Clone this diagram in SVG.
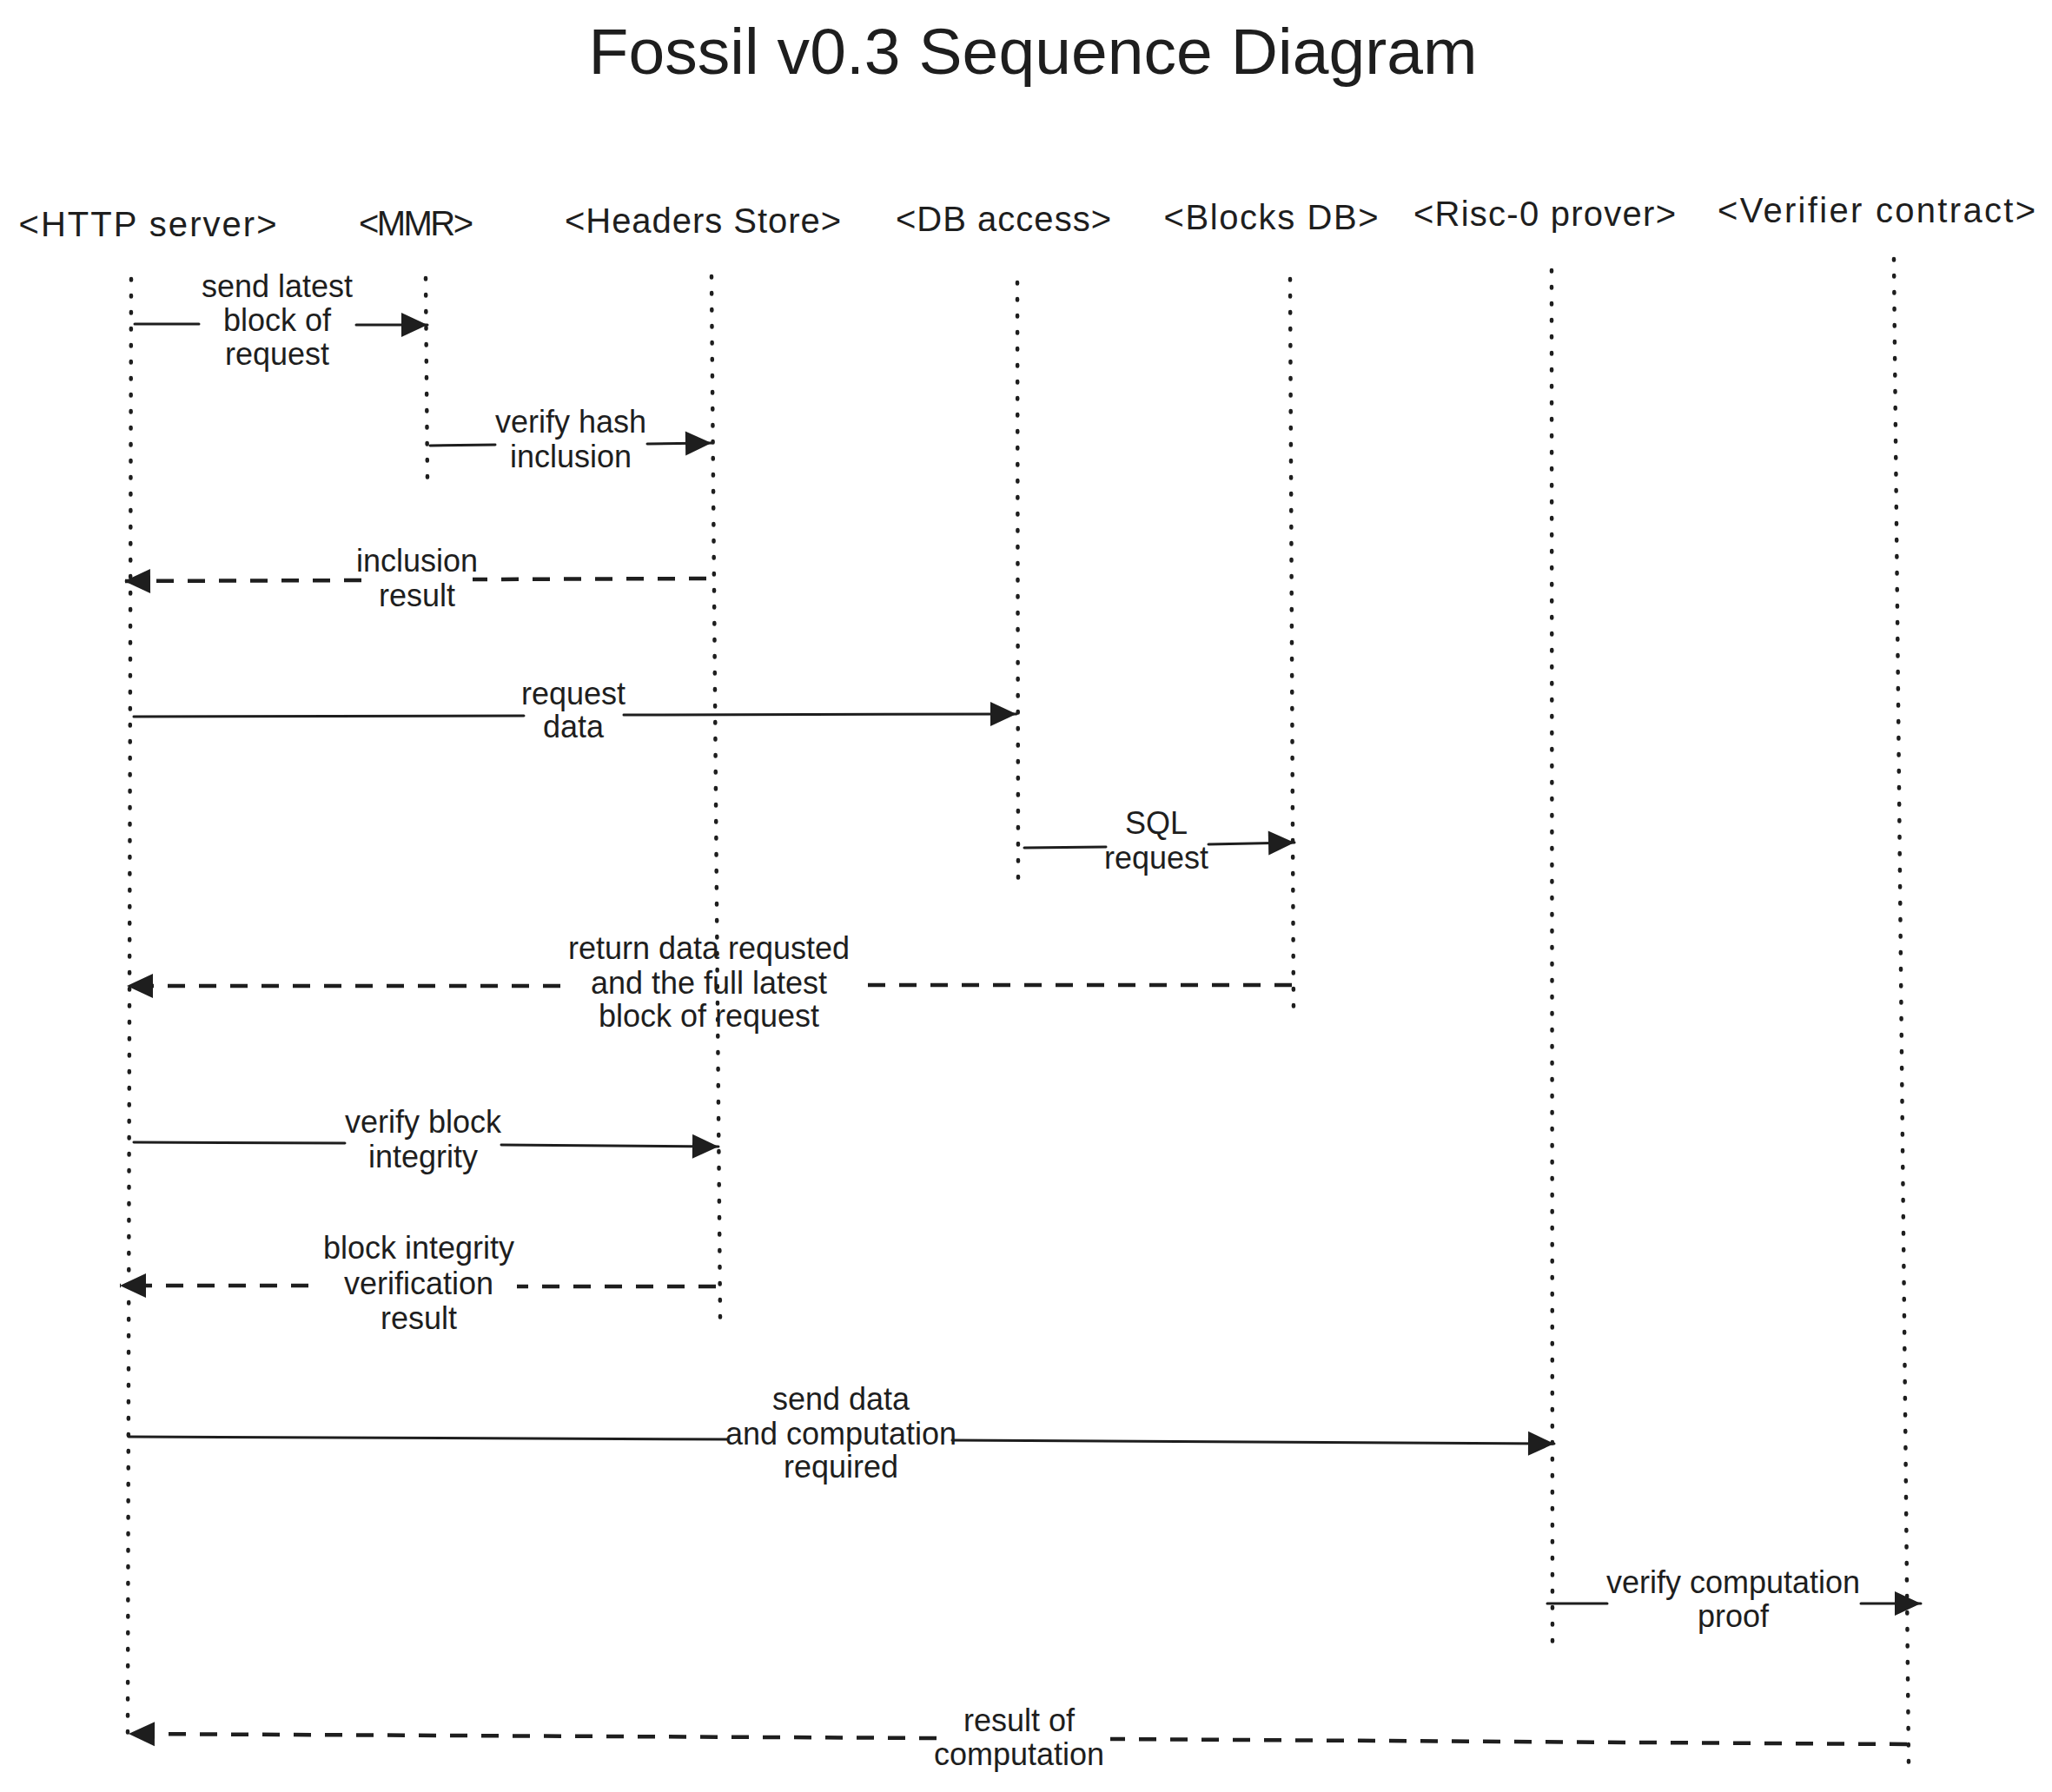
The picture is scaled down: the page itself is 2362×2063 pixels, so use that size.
<svg xmlns="http://www.w3.org/2000/svg" width="2362" height="2063" viewBox="0 0 2362 2063">
<style>
text { font-family: "Liberation Sans", Arial, sans-serif; fill: #1e1e1e; }
.title { font-size: 75px; text-anchor: middle; }
.hdr { font-size: 40px; text-anchor: middle; }
.lbl { font-size: 36px; text-anchor: middle; }
.life { stroke: #1e1e1e; stroke-width: 4.5; stroke-linecap: round; stroke-dasharray: 1.5 17.5; fill: none; }
.solid { stroke: #1e1e1e; stroke-width: 3; fill: none; stroke-linecap: round; marker-end: url(#ah); }
.dash { stroke: #1e1e1e; stroke-width: 4.5; fill: none; stroke-dasharray: 20 16; marker-end: url(#ah); }
</style>
<defs>
<marker id="ah" markerUnits="userSpaceOnUse" markerWidth="32" markerHeight="30" refX="30" refY="15" orient="auto" overflow="visible">
<path d="M0 1 L30 15 L0 29 Z" fill="#1e1e1e"/>
</marker>
</defs>
<rect width="2362" height="2063" fill="#ffffff"/>
<text class="title" x="1189" y="85" textLength="1023">Fossil v0.3 Sequence Diagram</text>

<g id="http-server">
<text class="hdr" x="170" y="272" textLength="297">&lt;HTTP server&gt;</text>
<path class="life" d="M151 321 L147 1998"/>
</g>
<g id="mmr">
<text class="hdr" x="479" y="271" textLength="132">&lt;MMR&gt;</text>
<path class="life" d="M490 320 L492 553"/>
</g>
<g id="headers-store">
<text class="hdr" x="809" y="268" textLength="318">&lt;Headers Store&gt;</text>
<path class="life" d="M819 318 L829 1518"/>
</g>
<g id="db-access">
<text class="hdr" x="1155" y="266" textLength="248">&lt;DB access&gt;</text>
<path class="life" d="M1171 325 L1172 1016"/>
</g>
<g id="blocks-db">
<text class="hdr" x="1463" y="264" textLength="247">&lt;Blocks DB&gt;</text>
<path class="life" d="M1485 321 L1489 1163"/>
</g>
<g id="risc0-prover">
<text class="hdr" x="1778" y="260" textLength="302">&lt;Risc-0 prover&gt;</text>
<path class="life" d="M1786 311 L1787 1891"/>
</g>
<g id="verifier-contract">
<text class="hdr" x="2160" y="256" textLength="366">&lt;Verifier contract&gt;</text>
<path class="life" d="M2180 298 L2197 2030"/>
</g>

<g id="connectors">
<g id="m1">
<path class="solid" d="M155 373 L229 373 M410 374 L492 374"/>
<text class="lbl" x="319" y="342">send latest</text>
<text class="lbl" x="319" y="381">block of</text>
<text class="lbl" x="319" y="420">request</text>
</g>
<g id="m2">
<path class="solid" d="M495 513 L570 512 M745 511 L819 510"/>
<text class="lbl" x="657" y="498">verify hash</text>
<text class="lbl" x="657" y="538">inclusion</text>
</g>
<g id="m3">
<path class="dash" d="M813 666 L544 667 M416 668 L143 669"/>
<text class="lbl" x="480" y="658">inclusion</text>
<text class="lbl" x="480" y="698">result</text>
</g>
<g id="m4">
<path class="solid" d="M154 825 L603 824 M718 823 L1170 822"/>
<text class="lbl" x="660" y="811">request</text>
<text class="lbl" x="660" y="849">data</text>
</g>
<g id="m5">
<path class="solid" d="M1179 976 L1273 975 M1391 972 L1490 970"/>
<text class="lbl" x="1331" y="960">SQL</text>
<text class="lbl" x="1331" y="1000">request</text>
</g>
<g id="m6">
<path class="dash" d="M1487 1134 L999 1134 M645 1135 L146 1135"/>
<text class="lbl" x="816" y="1104">return data requsted</text>
<text class="lbl" x="816" y="1144">and the full latest</text>
<text class="lbl" x="816" y="1182">block of request</text>
</g>
<g id="m7">
<path class="solid" d="M154 1315 L397 1316 M577 1318 L827 1320"/>
<text class="lbl" x="487" y="1304">verify block</text>
<text class="lbl" x="487" y="1344">integrity</text>
</g>
<g id="m8">
<path class="dash" d="M824 1481 L595 1481 M355 1480 L138 1480"/>
<text class="lbl" x="482" y="1449">block integrity</text>
<text class="lbl" x="482" y="1490">verification</text>
<text class="lbl" x="482" y="1530">result</text>
</g>
<g id="m9">
<path class="solid" d="M148 1654 L838 1657 M1096 1658 L1789 1662"/>
<text class="lbl" x="968" y="1623">send data</text>
<text class="lbl" x="968" y="1663">and computation</text>
<text class="lbl" x="968" y="1701">required</text>
</g>
<g id="m10">
<path class="solid" d="M1781 1846 L1850 1846 M2142 1846 L2211 1846"/>
<text class="lbl" x="1995" y="1834">verify computation</text>
<text class="lbl" x="1995" y="1873">proof</text>
</g>
<g id="m11">
<path class="dash" d="M2195 2008 L1278 2002 M1078 2001 L148 1996"/>
<text class="lbl" x="1173" y="1993">result of</text>
<text class="lbl" x="1173" y="2032">computation</text>
</g>
</g>
</svg>
